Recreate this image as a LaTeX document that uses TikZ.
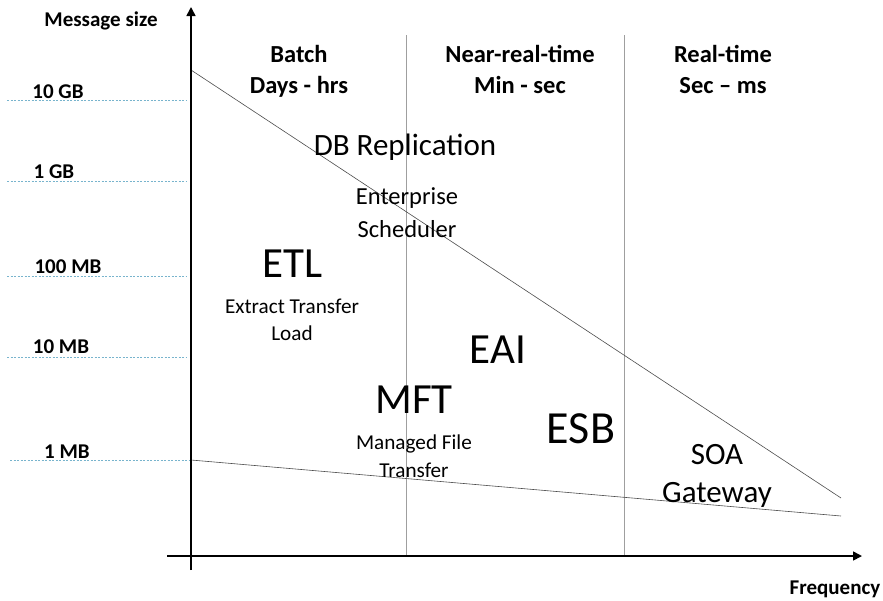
\documentclass[tikz,border=0pt]{standalone}
\usepackage{fontspec}
\setmainfont{Carlito}
\usetikzlibrary{arrows.meta}

\definecolor{guide}{RGB}{120,180,205}

\tikzset{
  axis/.style={line width=1.6pt, -{Triangle[length=9pt,width=9pt]}},
  divider/.style={gray!75, line width=0.8pt},
  slope/.style={black!70, line width=0.6pt},
  guideline/.style={guide, line width=0.9pt, dash pattern=on 2pt off 1.5pt},
  sizelabel/.style={anchor=base, font=\fontsize{21}{23}\selectfont\bfseries},
  header/.style={anchor=base, font=\fontsize{24.5}{27}\selectfont\bfseries},
  big/.style={anchor=base, font=\fontsize{43}{45}\selectfont},
  medium/.style={anchor=base, font=\fontsize{31}{33}\selectfont},
  small/.style={anchor=base, font=\fontsize{21.2}{23}\selectfont}
}

\begin{document}
\begin{tikzpicture}[x=1pt,y=-1pt]
\useasboundingbox (0,0) rectangle (883,600);

\coordinate (O) at (191,570);
\coordinate (Ytop) at (191,7);
\coordinate (Xleft) at (167,556);
\coordinate (Xright) at (862,556);

\coordinate (A) at (406,35);
\coordinate (B) at (406,556);
\coordinate (C) at (624,35);
\coordinate (D) at (624,556);

\coordinate (E) at (191,70);
\coordinate (F) at (841,498);
\coordinate (G) at (191,460);
\coordinate (H) at (841,516);

% guide lines for the sizes
\coordinate (G1) at (7,100);
\coordinate (G2) at (7,181);
\coordinate (G3) at (7,276);
\coordinate (G4) at (7,357);
\coordinate (G5) at (10,460);

\draw [guideline] (G1) -- (187,100);
\draw [guideline] (G2) -- (187,181);
\draw [guideline] (G3) -- (187,276);
\draw [guideline] (G4) -- (187,357);
\draw [guideline] (G5) -- (G);

\draw [divider] (A)--(B);
\draw [divider] (C)--(D);

\draw [slope] (E)--(F);
\draw [slope] (G)--(H);

\draw [axis] (O)--(Ytop);
\draw [axis] (Xleft)--(Xright);

\node [sizelabel] (ysize) at (101,26) {Message size};
\node [sizelabel] (xfreq) at (835,594) {Frequency};

\node [sizelabel] (l1) at (58,98) {10 GB};
\node [sizelabel] (l2) at (54,178) {1 GB};
\node [sizelabel] (l3) at (68,273) {100 MB};
\node [sizelabel] (l4) at (61,353) {10 MB};
\node [sizelabel] (l5) at (67,458) {1 MB};

\node [header] (batch) at (299,62) {Batch};
\node [header] (days) at (299,93) {Days - hrs};
\node [header] (near) at (520,62) {Near-real-time};
\node [header] (min) at (520,93) {Min - sec};
\node [header] (real) at (723,62) {Real-time};
\node [header] (sec) at (723,93) {Sec -- ms};

\node [medium] (dbrep) at (405,155) {DB Replication};
\node [small, font=\fontsize{24.5}{27}\selectfont] (ent) at (407,204) {Enterprise};
\node [small, font=\fontsize{24.5}{27}\selectfont] (sched) at (407,237) {Scheduler};
\node [big] (etl) at (293,277) {ETL};
\node [small] (etlx) at (292,313) {Extract Transfer};
\node [small] (load) at (292,340) {Load};
\node [big] (eai) at (498,363) {EAI};
\node [big] (mft) at (414,413) {MFT};
\node [small] (mftx) at (414,449) {Managed File};
\node [small] (trans) at (414,477) {Transfer};
\node [big, font=\fontsize{46}{48}\selectfont] (esb) at (581,443) {ESB};
\node [medium] (soa) at (717,464) {SOA};
\node [medium] (gate) at (717,502) {Gateway};

\end{tikzpicture}
\end{document}
